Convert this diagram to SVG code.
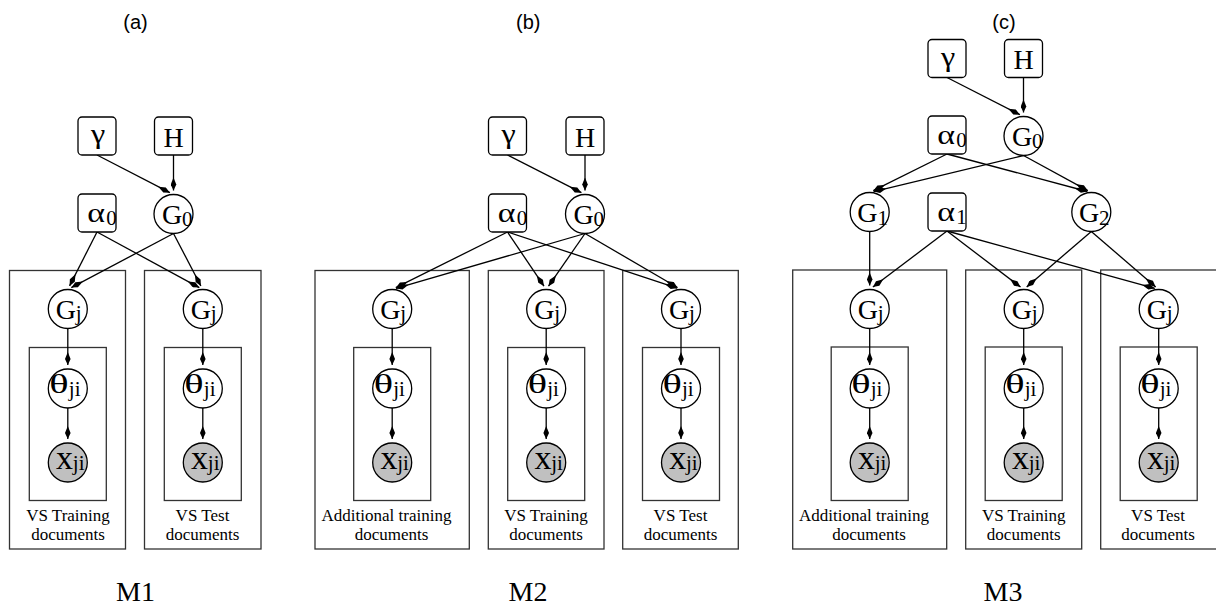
<svg xmlns="http://www.w3.org/2000/svg" width="1216" height="607" viewBox="0 0 1216 607">
<style>
.bg{fill:#fff}
.n{fill:#fff;stroke:#000;stroke-width:1.3}
.o{fill:#c0c0c0;stroke:#000;stroke-width:1.3}
.p{fill:none;stroke:#333;stroke-width:1.3}
.t{font-family:"Liberation Serif",serif;font-size:28px;fill:#000}
.th{font-family:"Liberation Serif",serif;font-size:27px;fill:#000}
.x{font-family:"Liberation Serif",serif;font-size:34px;fill:#000}
.s{font-family:"Liberation Serif",serif;font-size:21px;fill:#000}
.c{text-anchor:middle}
.pl{font-family:"Liberation Serif",serif;font-size:17px;fill:#000;text-anchor:middle}
.m{font-family:"Liberation Serif",serif;font-size:28px;fill:#000;text-anchor:middle}
.cap{font-family:"Liberation Sans",Arial,sans-serif;font-size:20px;fill:#000;text-anchor:middle}
.e line{stroke:#000;stroke-width:1.3;marker-end:url(#ah)}
</style>
<defs>
<marker id="ah" markerUnits="userSpaceOnUse" markerWidth="14" markerHeight="6" viewBox="0 0 14 6" refX="13" refY="3" orient="auto">
<path d="M13,3 L7,0.2 L0,3 L7,5.8 Z" fill="#000"/>
</marker>
</defs>
<rect class="bg" x="0" y="0" width="1216" height="607"/>

<!-- captions -->
<text class="cap" x="135.5" y="29">(a)</text>
<text class="cap" x="528.3" y="29">(b)</text>
<text class="cap" x="1004" y="29">(c)</text>
<text class="m" x="135.5" y="601">M1</text>
<text class="m" x="528" y="601">M2</text>
<text class="m" x="1003" y="601">M3</text>

<!-- plates -->
<g id="plates">
<rect class="p" x="9.5" y="270.5" width="116" height="278.5"/>
<rect class="p" x="29.3" y="347.5" width="77" height="153"/>
<text class="pl" x="68" y="521">VS Training</text><text class="pl" x="68" y="540">documents</text>
<rect class="p" x="144.5" y="270.5" width="116.5" height="278.5"/>
<rect class="p" x="164.3" y="347.5" width="77" height="153"/>
<text class="pl" x="202.5" y="521">VS Test</text><text class="pl" x="202.5" y="540">documents</text>

<rect class="p" x="315" y="270.5" width="154.3" height="278.5"/>
<rect class="p" x="353.7" y="347.5" width="77" height="153"/>
<text class="pl" x="386.5" y="521">Additional training</text><text class="pl" x="391.5" y="540">documents</text>
<rect class="p" x="488.3" y="270.5" width="115.7" height="278.5"/>
<rect class="p" x="507.7" y="347.5" width="77" height="153"/>
<text class="pl" x="546" y="521">VS Training</text><text class="pl" x="546" y="540">documents</text>
<rect class="p" x="622.7" y="270.5" width="115.6" height="278.5"/>
<rect class="p" x="642.5" y="347.5" width="77" height="153"/>
<text class="pl" x="680.5" y="521">VS Test</text><text class="pl" x="680.5" y="540">documents</text>

<rect class="p" x="792.7" y="270" width="154" height="279"/>
<rect class="p" x="831.2" y="347" width="77" height="153.5"/>
<text class="pl" x="864" y="521">Additional training</text><text class="pl" x="869" y="540">documents</text>
<rect class="p" x="965.7" y="270" width="116" height="279"/>
<rect class="p" x="985.2" y="347" width="77" height="153.5"/>
<text class="pl" x="1023.7" y="521">VS Training</text><text class="pl" x="1023.7" y="540">documents</text>
<rect class="p" x="1100.7" y="270" width="120" height="279"/>
<rect class="p" x="1120.2" y="347" width="77" height="153.5"/>
<text class="pl" x="1158" y="521">VS Test</text><text class="pl" x="1158" y="540">documents</text>
</g>

<!-- connectors -->
<g id="connectors" class="e">
<line x1="97" y1="155" x2="169.9" y2="192.7"/>
<line x1="173.5" y1="155" x2="173.5" y2="190.5"/>
<line x1="97" y1="232" x2="69.6" y2="285.9"/>
<line x1="97" y1="232" x2="199.3" y2="287.6"/>
<line x1="173.5" y1="233.5" x2="71.3" y2="287.6"/>
<line x1="173.5" y1="233.5" x2="200.9" y2="286"/>
<line x1="67.8" y1="328.5" x2="67.8" y2="365"/>
<line x1="67.8" y1="408" x2="67.8" y2="439"/>
<line x1="202.8" y1="328.5" x2="202.8" y2="365"/>
<line x1="202.8" y1="408" x2="202.8" y2="439"/>

<line x1="507.5" y1="155" x2="581.4" y2="192.7"/>
<line x1="585" y1="155" x2="585" y2="190.5"/>
<line x1="507.5" y1="232" x2="395.8" y2="287.7"/>
<line x1="507.5" y1="232" x2="544" y2="286.2"/>
<line x1="507.5" y1="232" x2="677.2" y2="288.2"/>
<line x1="585" y1="233.5" x2="396" y2="288.4"/>
<line x1="585" y1="233.5" x2="548.5" y2="286.2"/>
<line x1="585" y1="233.5" x2="677.5" y2="287.5"/>
<line x1="392.2" y1="328.5" x2="392.2" y2="365"/>
<line x1="392.2" y1="408" x2="392.2" y2="439"/>
<line x1="546.2" y1="328.5" x2="546.2" y2="365"/>
<line x1="546.2" y1="408" x2="546.2" y2="439"/>
<line x1="681" y1="328.5" x2="681" y2="365"/>
<line x1="681" y1="408" x2="681" y2="439"/>

<line x1="947" y1="77.5" x2="1019.9" y2="114.7"/>
<line x1="1023.5" y1="77.5" x2="1023.5" y2="112.5"/>
<line x1="947" y1="154" x2="873.3" y2="190.7"/>
<line x1="947" y1="154" x2="1087.4" y2="191.5"/>
<line x1="1023.5" y1="155.5" x2="873.6" y2="191.6"/>
<line x1="1023.5" y1="155.5" x2="1087.8" y2="190.6"/>
<line x1="869.7" y1="231.5" x2="869.7" y2="285.5"/>
<line x1="947" y1="231" x2="872.9" y2="287.1"/>
<line x1="947" y1="231" x2="1020.5" y2="287.1"/>
<line x1="947" y1="231" x2="1154.8" y2="288.4"/>
<line x1="1091.3" y1="231.5" x2="1026.7" y2="286.9"/>
<line x1="1091.3" y1="231.5" x2="1155.7" y2="286.9"/>
<line x1="869.7" y1="328.5" x2="869.7" y2="365"/>
<line x1="869.7" y1="408" x2="869.7" y2="439"/>
<line x1="1023.7" y1="328.5" x2="1023.7" y2="365"/>
<line x1="1023.7" y1="408" x2="1023.7" y2="439"/>
<line x1="1158.7" y1="328.5" x2="1158.7" y2="365"/>
<line x1="1158.7" y1="408" x2="1158.7" y2="439"/>
</g>

<!-- panel a nodes -->
<g id="a-gamma"><rect class="n" x="78" y="117" width="38" height="38" rx="4"/><text class="t c" transform="translate(98,143) scale(1.15,1)">γ</text></g>
<g id="a-H"><rect class="n" x="154.5" y="117" width="38" height="38" rx="4"/><text class="t c" x="173.5" y="146.5">H</text></g>
<g id="a-alpha0"><rect class="n" x="78" y="194" width="38" height="38" rx="4"/><text class="t" transform="translate(87.3,221.7) scale(1.21,1)">α</text><text class="s" x="106.3" y="225">0</text></g>
<g id="a-G0"><circle class="n" cx="173.5" cy="214" r="19.5"/><text class="t" x="162" y="223.5">G</text><text class="s" x="182" y="225.5">0</text></g>
<g id="a-Gj1"><circle class="n" cx="67.8" cy="309" r="19.5"/><text class="t" x="55.8" y="318.5">G</text><text class="s" x="75.8" y="320">j</text></g>
<g id="a-theta1"><circle class="n" cx="67.8" cy="388.5" r="19.5"/><text class="th" transform="translate(49.3,393) scale(1.5,1)">θ</text><text class="s" x="68.8" y="396">ji</text></g>
<g id="a-x1"><circle class="o" cx="67.8" cy="462.5" r="19.5"/><text class="x" x="56" y="468.5">x</text><text class="s" x="72.8" y="469.5">ji</text></g>
<g id="a-Gj2"><circle class="n" cx="202.8" cy="309" r="19.5"/><text class="t" x="190.8" y="318.5">G</text><text class="s" x="210.8" y="320">j</text></g>
<g id="a-theta2"><circle class="n" cx="202.8" cy="388.5" r="19.5"/><text class="th" transform="translate(184.3,393) scale(1.5,1)">θ</text><text class="s" x="203.8" y="396">ji</text></g>
<g id="a-x2"><circle class="o" cx="202.8" cy="462.5" r="19.5"/><text class="x" x="191" y="468.5">x</text><text class="s" x="207.8" y="469.5">ji</text></g>

<!-- panel b nodes -->
<g id="b-gamma"><rect class="n" x="488.5" y="117" width="38" height="38" rx="4"/><text class="t c" transform="translate(508.5,143) scale(1.15,1)">γ</text></g>
<g id="b-H"><rect class="n" x="566" y="117" width="38" height="38" rx="4"/><text class="t c" x="585" y="146.5">H</text></g>
<g id="b-alpha0"><rect class="n" x="488.5" y="194" width="38" height="38" rx="4"/><text class="t" transform="translate(497.8,221.7) scale(1.21,1)">α</text><text class="s" x="516.8" y="225">0</text></g>
<g id="b-G0"><circle class="n" cx="585" cy="214" r="19.5"/><text class="t" x="573.5" y="223.5">G</text><text class="s" x="593.5" y="225.5">0</text></g>
<g id="b-Gj1"><circle class="n" cx="392.2" cy="309" r="19.5"/><text class="t" x="380.2" y="318.5">G</text><text class="s" x="400.2" y="320">j</text></g>
<g id="b-theta1"><circle class="n" cx="392.2" cy="388.5" r="19.5"/><text class="th" transform="translate(373.7,393) scale(1.5,1)">θ</text><text class="s" x="393.2" y="396">ji</text></g>
<g id="b-x1"><circle class="o" cx="392.2" cy="462.5" r="19.5"/><text class="x" x="380.4" y="468.5">x</text><text class="s" x="397.2" y="469.5">ji</text></g>
<g id="b-Gj2"><circle class="n" cx="546.2" cy="309" r="19.5"/><text class="t" x="534.2" y="318.5">G</text><text class="s" x="554.2" y="320">j</text></g>
<g id="b-theta2"><circle class="n" cx="546.2" cy="388.5" r="19.5"/><text class="th" transform="translate(527.7,393) scale(1.5,1)">θ</text><text class="s" x="547.2" y="396">ji</text></g>
<g id="b-x2"><circle class="o" cx="546.2" cy="462.5" r="19.5"/><text class="x" x="534.4" y="468.5">x</text><text class="s" x="551.2" y="469.5">ji</text></g>
<g id="b-Gj3"><circle class="n" cx="681" cy="309" r="19.5"/><text class="t" x="669" y="318.5">G</text><text class="s" x="689" y="320">j</text></g>
<g id="b-theta3"><circle class="n" cx="681" cy="388.5" r="19.5"/><text class="th" transform="translate(662.5,393) scale(1.5,1)">θ</text><text class="s" x="682" y="396">ji</text></g>
<g id="b-x3"><circle class="o" cx="681" cy="462.5" r="19.5"/><text class="x" x="669.2" y="468.5">x</text><text class="s" x="686" y="469.5">ji</text></g>

<!-- panel c nodes -->
<g id="c-gamma"><rect class="n" x="928" y="39.5" width="38" height="38" rx="4"/><text class="t c" transform="translate(948,65.5) scale(1.15,1)">γ</text></g>
<g id="c-H"><rect class="n" x="1004.5" y="39.5" width="38" height="38" rx="4"/><text class="t c" x="1023.5" y="69">H</text></g>
<g id="c-alpha0"><rect class="n" x="928" y="116" width="38" height="38" rx="4"/><text class="t" transform="translate(937.3,143.7) scale(1.21,1)">α</text><text class="s" x="956.3" y="147">0</text></g>
<g id="c-G0"><circle class="n" cx="1023.5" cy="136" r="19.5"/><text class="t" x="1012" y="145.5">G</text><text class="s" x="1032" y="147.5">0</text></g>
<g id="c-G1"><circle class="n" cx="869.7" cy="212" r="19.5"/><text class="t" x="857.3" y="221.7">G</text><text class="s" x="877.5" y="225">1</text></g>
<g id="c-alpha1"><rect class="n" x="928" y="193" width="38" height="38" rx="4"/><text class="t" transform="translate(937.3,220.7) scale(1.21,1)">α</text><text class="s" x="956.3" y="224">1</text></g>
<g id="c-G2"><circle class="n" cx="1091.3" cy="212" r="19.5"/><text class="t" x="1078.9" y="221.7">G</text><text class="s" x="1099.1" y="225">2</text></g>
<g id="c-Gj1"><circle class="n" cx="869.7" cy="309" r="19.5"/><text class="t" x="857.7" y="318.5">G</text><text class="s" x="877.7" y="320">j</text></g>
<g id="c-theta1"><circle class="n" cx="869.7" cy="388.5" r="19.5"/><text class="th" transform="translate(851.2,393) scale(1.5,1)">θ</text><text class="s" x="870.7" y="396">ji</text></g>
<g id="c-x1"><circle class="o" cx="869.7" cy="462.5" r="19.5"/><text class="x" x="857.9" y="468.5">x</text><text class="s" x="874.7" y="469.5">ji</text></g>
<g id="c-Gj2"><circle class="n" cx="1023.7" cy="309" r="19.5"/><text class="t" x="1011.7" y="318.5">G</text><text class="s" x="1031.7" y="320">j</text></g>
<g id="c-theta2"><circle class="n" cx="1023.7" cy="388.5" r="19.5"/><text class="th" transform="translate(1005.2,393) scale(1.5,1)">θ</text><text class="s" x="1024.7" y="396">ji</text></g>
<g id="c-x2"><circle class="o" cx="1023.7" cy="462.5" r="19.5"/><text class="x" x="1011.9" y="468.5">x</text><text class="s" x="1028.7" y="469.5">ji</text></g>
<g id="c-Gj3"><circle class="n" cx="1158.7" cy="309" r="19.5"/><text class="t" x="1146.7" y="318.5">G</text><text class="s" x="1166.7" y="320">j</text></g>
<g id="c-theta3"><circle class="n" cx="1158.7" cy="388.5" r="19.5"/><text class="th" transform="translate(1140.2,393) scale(1.5,1)">θ</text><text class="s" x="1159.7" y="396">ji</text></g>
<g id="c-x3"><circle class="o" cx="1158.7" cy="462.5" r="19.5"/><text class="x" x="1146.9" y="468.5">x</text><text class="s" x="1163.7" y="469.5">ji</text></g>
</svg>
